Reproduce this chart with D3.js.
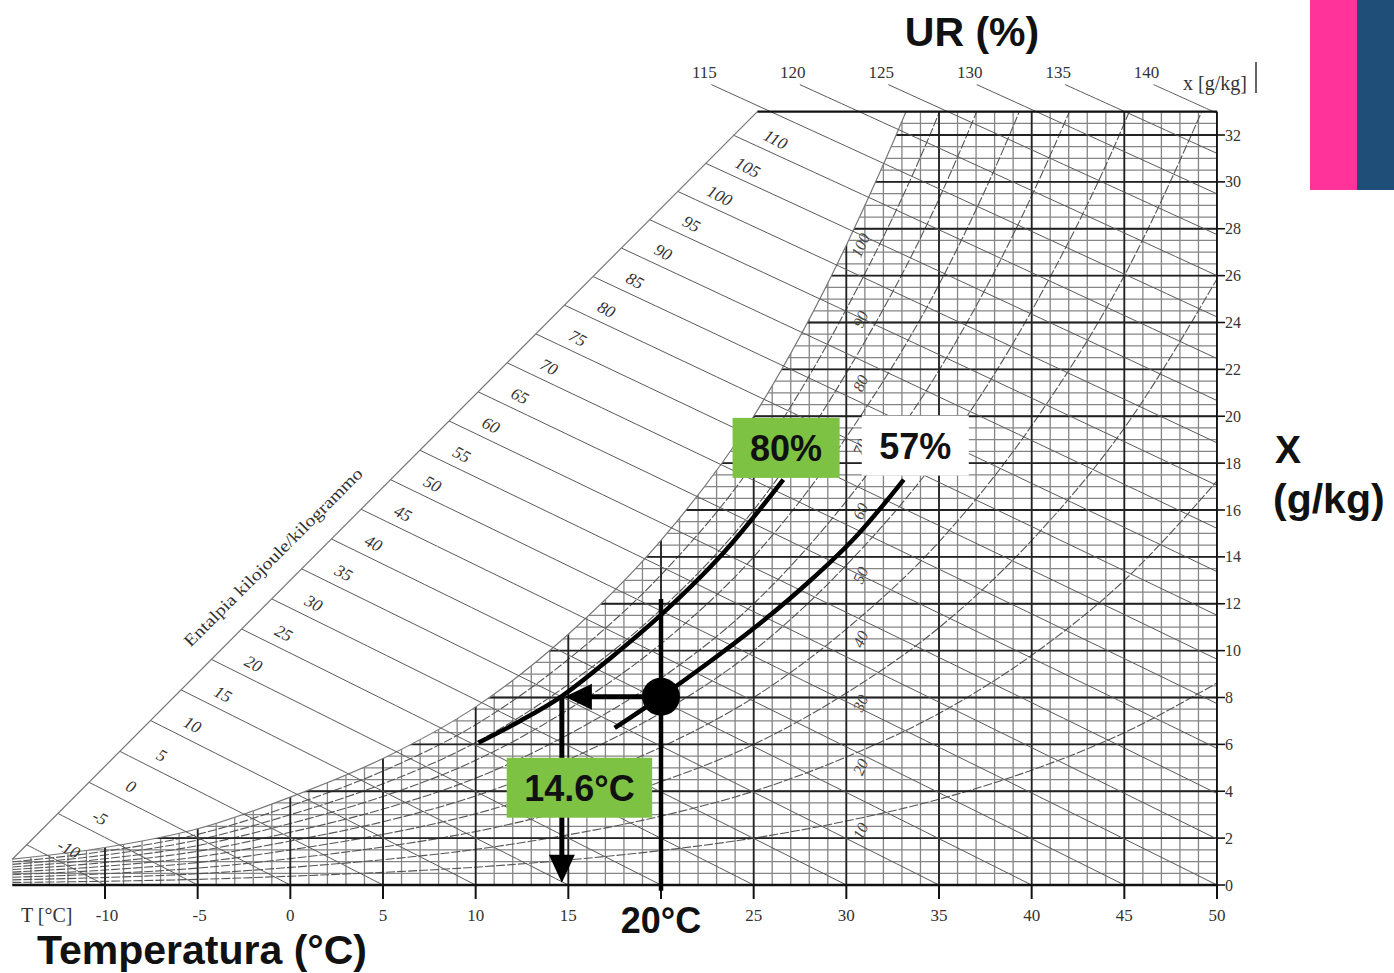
<!DOCTYPE html>
<html>
<head>
<meta charset="utf-8">
<script src="https://cdn.jsdelivr.net/npm/d3@7"></script>
<style>
  body { margin: 0; background: #fff; }
  text.serif { font-family: "Liberation Serif", "Times New Roman", serif; }
  text.bold { font-family: "Liberation Sans", Arial, sans-serif; font-weight: bold; }
</style>
</head>
<body>
<svg id="chart" width="1394" height="973"></svg>
<script>
// ---- values ----
var tempTicks = [-10, -5, 0, 5, 10, 15, 20, 25, 30, 35, 40, 45, 50];
var tempLabels = [-10, -5, 0, 5, 10, 15, 25, 30, 35, 40, 45, 50]; // 20 is covered by "20°C"
var humTicks = [0, 2, 4, 6, 8, 10, 12, 14, 16, 18, 20, 22, 24, 26, 28, 30, 32];
var enthalpyValues = [-10, -5, 0, 5, 10, 15, 20, 25, 30, 35, 40, 45, 50, 55, 60, 65, 70, 75,
                      80, 85, 90, 95, 100, 105, 110, 115, 120, 125, 130, 135, 140];
var rhLevels = [10, 20, 30, 40, 50, 60, 70, 80, 90];
var rhLabels = [100, 90, 80, 70, 60, 50, 40, 30, 20, 10];

// saturation curve (T in °C, x in g/kg); above 33 g/kg estimated from where UR lines leave the frame
var satTemp = [-15, -10, -5, 0, 5, 10, 15, 20, 25, 30, 35, 40, 45, 50];
var satHum = [1.1, 1.6, 2.4, 3.75, 5.4, 7.6, 10.7, 14.7, 20.0, 27.3, 36.6, 49.0, 65.0, 86.2];

// hand drawn curves of the example
var curve80T = [10.15, 12.4, 14.6, 17.3, 20.1, 23.4, 26.6];
var curve80X = [6.07, 7.0, 8.03, 9.7, 11.6, 14.2, 17.3];
var curve57T = [17.5, 20.0, 22.5, 25.4, 28.0, 30.5, 33.1];
var curve57X = [6.7, 8.03, 9.45, 11.2, 12.95, 14.85, 17.3];

var statePoint = { t: 20, x: 8.03 };
var dewPointT = 14.65;
var boxLabels = ["80%", "57%", "14.6°C"];
var boxAnchorT = [26.75, 33.72, 15.6];
var boxAnchorX = [18.65, 18.75, 4.15];

var green = "#7dc243";

// ---- scales ----
var svg = d3.select("#chart");
var xT = d3.scaleLinear().domain([-10, 50]).range([105, 1217]);
var yX = d3.scaleLinear().domain([0, 32]).range([885, 135]);
var tMin = -15, tMax = 50, xMax = 33;

// enthalpy (kJ/kg) as it is laid out on this chart
var hE = 0.0014, hB = 2.4689, hD = 0.0059;
function hOf(t, x) { return t * (1 + hE * x) + hB * x + hD * x * x; }
function xOnH(h, t) {
    var b = hB + hE * t, c = t - h;
    return (-b + Math.sqrt(b * b - 4 * hD * c)) / (2 * hD);
}
function tOnH(h, x) { return (h - hB * x - hD * x * x) / (1 + hE * x); }

var diagA = [-15, 1.1], diagB = [25.2, 33];
function diagPoint(s) {
    return [diagA[0] + s * (diagB[0] - diagA[0]), diagA[1] + s * (diagB[1] - diagA[1])];
}
function diagStart(h) {
    var lo = 0, hi = 1;
    for (var k = 0; k < 40; k++) {
        var mid = (lo + hi) / 2, p = diagPoint(mid);
        if (hOf(p[0], p[1]) < h) lo = mid; else hi = mid;
    }
    return diagPoint((lo + hi) / 2);
}

var line = d3.line().x(function(d) { return xT(d[0]); }).y(function(d) { return yX(d[1]); });
var smooth = d3.line().x(function(d) { return xT(d[0]); }).y(function(d) { return yX(d[1]); })
    .curve(d3.curveMonotoneX);
var satPts = satTemp.map(function(t, i) { return [t, satHum[i]]; });

svg.append("rect").attr("width", 1394).attr("height", 973).attr("fill", "#fff");

// ---- clip paths ----
var defs = svg.append("defs");
defs.append("clipPath").attr("id", "clipRect").append("rect")
    .attr("x", xT(tMin)).attr("y", yX(xMax))
    .attr("width", xT(tMax) - xT(tMin)).attr("height", yX(0) - yX(xMax));
defs.append("clipPath").attr("id", "clipSat").append("path")
    .attr("d", d3.area()
        .x(function(d) { return xT(d[0]); })
        .y0(yX(0))
        .y1(function(d) { return yX(d[1]); })
        .curve(d3.curveMonotoneX)(satPts));

var outer = svg.append("g").attr("clip-path", "url(#clipRect)");
var grid = outer.append("g").attr("clip-path", "url(#clipSat)");

// minor grid
grid.selectAll("line.vminor").data(d3.range(tMin, tMax + 1, 1)).join("line")
    .attr("x1", xT).attr("x2", xT)
    .attr("y1", yX(0)).attr("y2", yX(xMax))
    .attr("stroke", "#858585").attr("stroke-width", 1.3);
grid.selectAll("line.hminor").data(d3.range(0, xMax + 0.01, 0.5)).join("line")
    .attr("x1", xT(tMin)).attr("x2", xT(tMax))
    .attr("y1", yX).attr("y2", yX)
    .attr("stroke", "#858585").attr("stroke-width", 1.3);

// UR curves
rhLevels.forEach(function(rh) {
    grid.append("path")
        .attr("d", smooth(satPts.map(function(p) { return [p[0], p[1] * rh / 100]; })))
        .attr("fill", "none").attr("stroke", "#555").attr("stroke-width", 1.1)
        .attr("stroke-dasharray", "9,2");
});

// major grid
grid.selectAll("line.vmajor").data(tempTicks).join("line")
    .attr("x1", xT).attr("x2", xT)
    .attr("y1", yX(0)).attr("y2", yX(xMax))
    .attr("stroke", "#222").attr("stroke-width", 1.8);
grid.selectAll("line.hmajor").data(humTicks).join("line")
    .attr("x1", xT(tMin)).attr("x2", xT(tMax))
    .attr("y1", yX).attr("y2", yX)
    .attr("stroke", "#222").attr("stroke-width", 1.8);

// saturation line
outer.append("path")
    .attr("d", smooth(satPts))
    .attr("fill", "none").attr("stroke", "#777").attr("stroke-width", 1.2);

// enthalpy lines + labels
var hGroup = svg.append("g");
enthalpyValues.forEach(function(h) {
    var start = h <= 110 ? diagStart(h) : [tOnH(h, 34.15), 34.15];
    var tEnd = Math.min(tMax, h);
    var pts = d3.range(0, 31).map(function(i) {
        var t = start[0] + (tEnd - start[0]) * i / 30;
        return [t, Math.max(0, xOnH(h, t))];
    });
    pts[0] = start;
    hGroup.append("path").attr("d", line(pts))
        .attr("fill", "none").attr("stroke", "#5a5a5a").attr("stroke-width", 1);
    var px = xT(start[0]), py = yX(start[1]);
    if (h <= 110) {
        hGroup.append("text").attr("class", "serif")
            .attr("transform", "translate(" + (px + 42) + "," + (py + 4) + ") rotate(28)")
            .attr("text-anchor", "middle").attr("dy", "0.35em")
            .attr("font-size", 17).attr("font-style", "italic").attr("fill", "#333")
            .text(h);
    } else {
        hGroup.append("text").attr("class", "serif")
            .attr("x", px - 7).attr("y", py - 7)
            .attr("text-anchor", "middle")
            .attr("font-size", 17).attr("fill", "#333")
            .text(h);
    }
});

// UR labels
var sat30 = satHum[satTemp.indexOf(30)];
rhLabels.forEach(function(rh) {
    var px = xT(30) + 14, py = yX(sat30 * rh / 100) + (rh === 100 ? 0 : 10);
    svg.append("text").attr("class", "serif")
        .attr("transform", "translate(" + px + "," + py + ") rotate(-66)")
        .attr("text-anchor", "middle").attr("dy", "0.35em")
        .attr("font-size", 16).attr("font-style", "italic").attr("fill", "#444")
        .text(rh);
});

// frame
svg.append("line")
    .attr("x1", xT(diagA[0])).attr("y1", yX(diagA[1]))
    .attr("x2", xT(diagB[0])).attr("y2", yX(diagB[1]))
    .attr("stroke", "#777").attr("stroke-width", 1.2);
svg.append("line")
    .attr("x1", xT(diagB[0])).attr("y1", yX(xMax))
    .attr("x2", xT(tMax)).attr("y2", yX(xMax))
    .attr("stroke", "#111").attr("stroke-width", 2.2);
svg.append("line")
    .attr("x1", xT(tMax)).attr("y1", yX(xMax))
    .attr("x2", xT(tMax)).attr("y2", yX(0))
    .attr("stroke", "#111").attr("stroke-width", 1.8);
svg.append("line")
    .attr("x1", xT(tMin)).attr("y1", yX(0))
    .attr("x2", xT(tMax)).attr("y2", yX(0))
    .attr("stroke", "#111").attr("stroke-width", 2.6);

// axes ticks and labels
svg.selectAll("line.btick").data(tempTicks).join("line")
    .attr("x1", xT).attr("x2", xT)
    .attr("y1", yX(0)).attr("y2", yX(0) + 14)
    .attr("stroke", "#111").attr("stroke-width", 2);
svg.selectAll("text.blab").data(tempLabels).join("text")
    .attr("class", "serif")
    .attr("x", function(d) { return xT(d) + (d < 0 ? 2 : 0); })
    .attr("y", 921).attr("text-anchor", "middle")
    .attr("font-size", 17).attr("fill", "#333")
    .text(function(d) { return d; });
svg.selectAll("line.rtick").data(humTicks).join("line")
    .attr("x1", xT(tMax)).attr("x2", xT(tMax) + 8)
    .attr("y1", yX).attr("y2", yX)
    .attr("stroke", "#111").attr("stroke-width", 1.6);
svg.selectAll("text.rlab").data(humTicks).join("text")
    .attr("class", "serif")
    .attr("x", xT(tMax) + 8).attr("y", yX).attr("dy", "0.35em")
    .attr("font-size", 16).attr("fill", "#333")
    .text(function(d) { return d; });

svg.append("text").attr("class", "serif")
    .attr("x", 21).attr("y", 922).attr("font-size", 20).attr("fill", "#333")
    .text("T [°C]");
svg.append("text").attr("class", "serif")
    .attr("x", 1215).attr("y", 90).attr("text-anchor", "middle")
    .attr("font-size", 20).attr("fill", "#333")
    .text("x [g/kg]");
svg.append("line")
    .attr("x1", 1256).attr("x2", 1256).attr("y1", 62).attr("y2", 93)
    .attr("stroke", "#333").attr("stroke-width", 1.5);
svg.append("text").attr("class", "serif")
    .attr("transform", "translate(273,557) rotate(-45)")
    .attr("text-anchor", "middle").attr("dy", "0.35em")
    .attr("font-size", 17).attr("fill", "#333")
    .attr("textLength", 245).attr("lengthAdjust", "spacingAndGlyphs")
    .text("Entalpia kilojoule/kilogrammo");

// ---- annotations ----
var ann = svg.append("g");
var curveLine = d3.line().x(function(d) { return xT(d[0]); }).y(function(d) { return yX(d[1]); })
    .curve(d3.curveCatmullRom);
ann.append("path")
    .attr("d", curveLine(curve80T.map(function(t, i) { return [t, curve80X[i]]; })))
    .attr("fill", "none").attr("stroke", "#000").attr("stroke-width", 4.5);
ann.append("path")
    .attr("d", curveLine(curve57T.map(function(t, i) { return [t, curve57X[i]]; })))
    .attr("fill", "none").attr("stroke", "#000").attr("stroke-width", 4.5);

// vertical line at 20 °C
ann.append("line")
    .attr("x1", xT(20)).attr("x2", xT(20))
    .attr("y1", yX(12.2)).attr("y2", yX(-0.25))
    .attr("stroke", "#000").attr("stroke-width", 4.5);

var sy = yX(statePoint.x), sx = xT(statePoint.t), dx = xT(dewPointT);
// horizontal arrow to the dew point
ann.append("line")
    .attr("x1", sx).attr("x2", dx + 24).attr("y1", sy).attr("y2", sy)
    .attr("stroke", "#000").attr("stroke-width", 5);
ann.append("path")
    .attr("d", "M" + (dx + 3) + "," + sy + "L" + (dx + 30) + "," + (sy - 13) + "L" + (dx + 30) + "," + (sy + 13) + "Z")
    .attr("fill", "#000");
// vertical arrow down to the axis
var tipY = yX(0.1);
ann.append("line")
    .attr("x1", dx).attr("x2", dx).attr("y1", sy).attr("y2", tipY - 24)
    .attr("stroke", "#000").attr("stroke-width", 5);
ann.append("path")
    .attr("d", "M" + dx + "," + tipY + "L" + (dx - 13) + "," + (tipY - 28) + "L" + (dx + 13) + "," + (tipY - 28) + "Z")
    .attr("fill", "#000");
ann.append("circle").attr("cx", sx).attr("cy", sy).attr("r", 19).attr("fill", "#000");

// label boxes
boxLabels.forEach(function(lab, i) {
    var cx = xT(boxAnchorT[i]), cy = yX(boxAnchorX[i]);
    var g = ann.append("g");
    var r = g.append("rect").attr("fill", i === 1 ? "#fff" : green);
    var t = g.append("text").attr("class", "bold")
        .attr("x", cx).attr("y", cy + 13).attr("text-anchor", "middle")
        .attr("font-size", 36).attr("fill", "#111").text(lab);
    var w = t.node().getBBox().width + 35, hgt = 60;
    r.attr("x", cx - w / 2).attr("y", cy - hgt / 2).attr("width", w).attr("height", hgt);
});

// titles
svg.append("text").attr("class", "bold")
    .attr("x", 972).attr("y", 46).attr("text-anchor", "middle")
    .attr("font-size", 41).attr("fill", "#111").text("UR (%)");
svg.append("text").attr("class", "bold")
    .attr("x", 1275).attr("y", 463).attr("font-size", 39).attr("fill", "#111").text("X");
svg.append("text").attr("class", "bold")
    .attr("x", 1273).attr("y", 513).attr("font-size", 41).attr("fill", "#111").text("(g/kg)");
svg.append("text").attr("class", "bold")
    .attr("x", 37).attr("y", 964).attr("font-size", 41).attr("fill", "#111").text("Temperatura (°C)");
svg.append("text").attr("class", "bold")
    .attr("x", xT(20)).attr("y", 933).attr("text-anchor", "middle")
    .attr("font-size", 36).attr("fill", "#111").text("20°C");

// corner decoration
svg.append("rect").attr("x", 1310).attr("y", 0).attr("width", 47).attr("height", 190).attr("fill", "#ff3399");
svg.append("rect").attr("x", 1357).attr("y", 0).attr("width", 37).attr("height", 190).attr("fill", "#1f4e79");
</script>
</body>
</html>
